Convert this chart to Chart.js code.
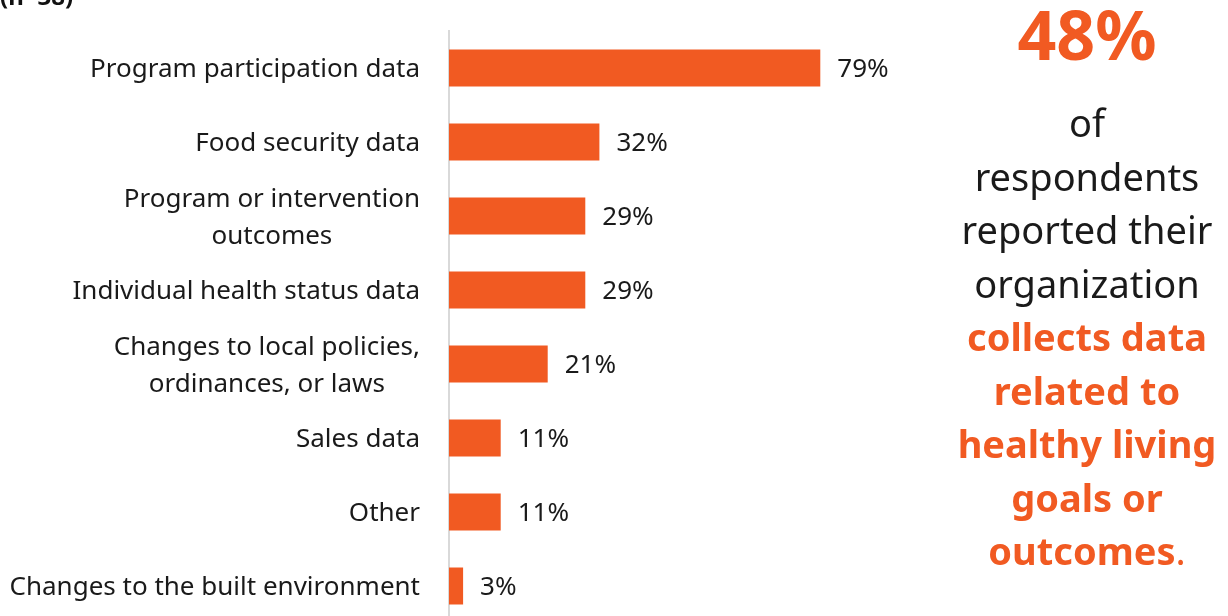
<!DOCTYPE html>
<html>
<head>
<meta charset="utf-8">
<title>Data collected by organizations</title>
<script src="https://cdn.jsdelivr.net/npm/chart.js@4"></script>
<style>
  html, body { margin: 0; padding: 0; background: #fff; overflow: hidden; }
  #wrap { position: relative; width: 1228px; height: 616px; overflow: hidden; }
  #chart { position: absolute; left: 0; top: 0; }
  #sample { position: absolute; left: 0; top: -21px; font: bold 24px "Noto Sans", sans-serif; color: #111; }
  #callout {
    position: absolute; left: 947px; top: 0; width: 280px; text-align: center;
    font-family: "Noto Sans", sans-serif; color: #1a1a1a;
  }
  #callout .big { font-size: 68px; font-weight: bold; color: #F15A22; line-height: 74px; margin-top: -3px; }
  #callout .body { font-size: 38px; line-height: 53.5px; margin-top: 25px; }
  #callout .hl { font-weight: bold; color: #F15A22; }
  #callout .dot { font-weight: normal; }
</style>
</head>
<body>
<div id="wrap">
  <canvas id="chart" width="1228" height="630"></canvas>
  <div id="sample">(n=38)</div>
  <div id="callout">
    <div class="big">48%</div>
    <div class="body">of<br>respondents<br>reported their<br>organization<br><span class="hl">collects data<br>related to<br>healthy living<br>goals or<br>outcomes<span class="dot">.</span></span></div>
  </div>
</div>
<script>
// Types of data organizations collect (% of respondents)
const categories = [
    ['Program participation data'],
    ['Food security data'],
    ['Program or intervention', 'outcomes'],
    ['Individual health status data'],
    ['Changes to local policies,', 'ordinances, or laws'],
    ['Sales data'],
    ['Other'],
    ['Changes to the built environment']
];
const percentages = [79, 32, 29, 29, 21, 11, 11, 3];

const ORANGE = '#F15A22';
const FONT = '"Noto Sans", sans-serif';

// Category labels: each block right-edged at a fixed gap, lines centered within the block
const categoryLabels = {
    id: 'categoryLabels',
    afterDraw(chart) {
        const ctx = chart.ctx;
        const yScale = chart.scales.y;
        const right = chart.chartArea.left - 29;
        const lineH = 37;
        ctx.save();
        ctx.font = '26px ' + FONT;
        ctx.fillStyle = '#1a1a1a';
        ctx.textAlign = 'center';
        ctx.textBaseline = 'middle';
        categories.forEach((lines, i) => {
            const y = yScale.getPixelForValue(i) + 2;
            const widest = Math.max(...lines.map(l => ctx.measureText(l).width));
            const cx = right - widest / 2;
            const top = y - (lines.length - 1) * lineH / 2;
            lines.forEach((l, j) => ctx.fillText(l, cx, top + j * lineH));
        });
        ctx.restore();
    }
};

// Percent labels just past the end of each bar
const valueLabels = {
    id: 'valueLabels',
    afterDatasetsDraw(chart) {
        const ctx = chart.ctx;
        const meta = chart.getDatasetMeta(0);
        ctx.save();
        ctx.font = '26px ' + FONT;
        ctx.fillStyle = '#1a1a1a';
        ctx.textAlign = 'left';
        ctx.textBaseline = 'middle';
        meta.data.forEach((bar, i) => {
            ctx.fillText(percentages[i] + '%', bar.x + 17, bar.y + 2);
        });
        ctx.restore();
    }
};

new Chart(document.getElementById('chart'), {
    type: 'bar',
    data: {
        labels: categories.map(c => c.join(' ')),
        datasets: [{
            data: percentages,
            backgroundColor: ORANGE,
            borderWidth: 0,
            categoryPercentage: 1,
            barPercentage: 0.5
        }]
    },
    options: {
        indexAxis: 'y',
        responsive: false,
        animation: false,
        layout: { padding: { left: 441, right: 309, top: 31, bottom: 7 } },
        plugins: {
            legend: { display: false },
            tooltip: { enabled: false }
        },
        scales: {
            x: { display: false, min: 0, max: 100 },
            y: {
                grid: { display: false },
                ticks: { display: false },
                border: { display: true, color: '#d9d9d9', width: 2 }
            }
        }
    },
    plugins: [categoryLabels, valueLabels]
});
</script>
</body>
</html>
